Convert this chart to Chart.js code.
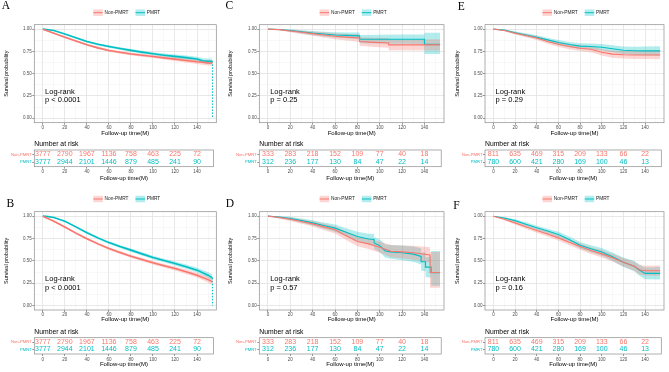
<!DOCTYPE html>
<html>
<head>
<meta charset="utf-8">
<script src="https://cdn.jsdelivr.net/npm/chart.js@4.4.0/dist/chart.umd.min.js"></script>
<style>
  html, body { margin: 0; padding: 0; background: #fff; }
  #fig { position: relative; width: 669px; height: 372px; overflow: hidden; }
  #fig canvas { position: absolute; }
  .tag { position: absolute; font-family: "Liberation Serif", "Times New Roman", serif; font-size: 11.5px; line-height: 1; color: #000; }
</style>
</head>
<body>
<div id="fig"></div>
<script>
// ---- groups and axes ----
const groups = ["Non-PMRT", "PMRT"];
const groupColors = ["#F8766D", "#00BFC4"];
const groupFills = ["rgba(248,118,109,0.3)", "rgba(0,191,196,0.3)"];

const survTicks = [0, 0.25, 0.5, 0.75, 1];
const survMinor = [0.125, 0.375, 0.625, 0.875];
const timeTicks = [0, 20, 40, 60, 80, 100, 120, 140];
const timeMinor = [10, 30, 50, 70, 90, 110, 130, 150];
const riskTimes = [0, 20, 40, 60, 80, 100, 120, 140];

// ---- A ----
const aTime = [0, 10, 20, 30, 40, 50, 60, 70, 80, 90, 100, 110, 120, 130, 140, 145, 150, 154];
const aNonEst = [1, 0.955, 0.91, 0.866, 0.825, 0.79, 0.761, 0.74, 0.722, 0.707, 0.693, 0.678, 0.664, 0.649, 0.634, 0.628, 0.622, 0.62];
const aNonLo = [1, 0.948, 0.901, 0.855, 0.813, 0.777, 0.747, 0.725, 0.706, 0.69, 0.675, 0.659, 0.643, 0.626, 0.609, 0.601, 0.593, 0.588];
const aNonHi = [1, 0.962, 0.919, 0.877, 0.837, 0.803, 0.775, 0.755, 0.738, 0.724, 0.711, 0.697, 0.685, 0.672, 0.659, 0.655, 0.651, 0.652];
const aPmrtEst = [1, 0.985, 0.945, 0.903, 0.862, 0.83, 0.806, 0.783, 0.762, 0.742, 0.724, 0.708, 0.694, 0.68, 0.666, 0.645, 0.64, 0.638];
const aPmrtLo = [1, 0.981, 0.938, 0.893, 0.85, 0.817, 0.792, 0.768, 0.746, 0.725, 0.706, 0.689, 0.673, 0.657, 0.641, 0.617, 0.61, 0.605];
const aPmrtHi = [1, 0.989, 0.952, 0.913, 0.874, 0.843, 0.82, 0.798, 0.778, 0.759, 0.742, 0.727, 0.715, 0.703, 0.691, 0.673, 0.67, 0.671];

// ---- B ----
const bTime = [0, 5, 10, 20, 30, 40, 50, 60, 70, 80, 90, 100, 110, 120, 130, 140, 150, 154];
const bNonEst = [1, 0.972, 0.944, 0.878, 0.81, 0.748, 0.69, 0.637, 0.593, 0.552, 0.514, 0.478, 0.446, 0.415, 0.378, 0.34, 0.29, 0.265];
const bNonLo = [1, 0.967, 0.937, 0.868, 0.798, 0.735, 0.676, 0.622, 0.577, 0.535, 0.496, 0.459, 0.426, 0.393, 0.354, 0.313, 0.258, 0.228];
const bNonHi = [1, 0.977, 0.951, 0.888, 0.822, 0.761, 0.704, 0.652, 0.609, 0.569, 0.532, 0.497, 0.466, 0.437, 0.402, 0.367, 0.322, 0.302];
const bPmrtEst = [1, 0.995, 0.985, 0.944, 0.88, 0.815, 0.757, 0.704, 0.66, 0.62, 0.578, 0.537, 0.503, 0.47, 0.435, 0.396, 0.34, 0.31];
const bPmrtLo = [1, 0.993, 0.981, 0.937, 0.869, 0.802, 0.743, 0.689, 0.644, 0.603, 0.56, 0.518, 0.483, 0.448, 0.411, 0.369, 0.308, 0.272];
const bPmrtHi = [1, 0.997, 0.989, 0.951, 0.891, 0.828, 0.771, 0.719, 0.676, 0.637, 0.596, 0.556, 0.523, 0.492, 0.459, 0.423, 0.372, 0.348];

// ---- C ----
const cNonTime = [0, 10, 20, 30, 40, 50, 60, 70, 82, 82, 95, 108, 108, 154];
const cNonEst = [1, 0.995, 0.98, 0.965, 0.95, 0.935, 0.92, 0.91, 0.9, 0.862, 0.852, 0.845, 0.823, 0.823];
const cNonLo = [1, 0.987, 0.966, 0.946, 0.926, 0.906, 0.887, 0.873, 0.858, 0.815, 0.8, 0.79, 0.763, 0.76];
const cNonHi = [1, 1, 0.994, 0.984, 0.974, 0.964, 0.953, 0.947, 0.942, 0.909, 0.904, 0.9, 0.883, 0.886];
const cPmrtTime = [0, 10, 20, 30, 40, 50, 60, 70, 82, 82, 100, 120, 140, 140, 154];
const cPmrtEst = [1, 0.996, 0.985, 0.97, 0.955, 0.945, 0.935, 0.93, 0.925, 0.887, 0.887, 0.887, 0.887, 0.83, 0.83];
const cPmrtLo = [1, 0.988, 0.971, 0.951, 0.931, 0.918, 0.905, 0.897, 0.888, 0.841, 0.838, 0.835, 0.833, 0.72, 0.72];
const cPmrtHi = [1, 1, 0.999, 0.989, 0.979, 0.972, 0.965, 0.963, 0.962, 0.933, 0.936, 0.939, 0.941, 0.96, 0.96];

// ---- D ----
const dNonTime = [0, 10, 20, 30, 40, 50, 60, 70, 80, 90, 100, 110, 120, 130, 145, 145, 154];
const dNonEst = [1, 0.985, 0.966, 0.94, 0.914, 0.88, 0.847, 0.78, 0.716, 0.69, 0.653, 0.608, 0.6, 0.59, 0.565, 0.37, 0.37];
const dNonLo = [1, 0.972, 0.946, 0.914, 0.883, 0.844, 0.806, 0.732, 0.662, 0.632, 0.59, 0.539, 0.527, 0.512, 0.478, 0.2, 0.2];
const dNonHi = [1, 0.998, 0.986, 0.966, 0.945, 0.916, 0.888, 0.828, 0.77, 0.748, 0.716, 0.677, 0.673, 0.668, 0.652, 0.6, 0.6];
const dPmrtTime = [0, 10, 20, 30, 40, 50, 60, 70, 80, 90, 95, 95, 100, 105, 110, 120, 130, 137, 137, 141, 141, 146, 146, 154];
const dPmrtEst = [1, 0.99, 0.974, 0.95, 0.925, 0.895, 0.866, 0.82, 0.772, 0.745, 0.74, 0.7, 0.67, 0.61, 0.6, 0.59, 0.575, 0.55, 0.49, 0.49, 0.43, 0.43, 0.366, 0.366];
const dPmrtLo = [1, 0.978, 0.955, 0.925, 0.895, 0.86, 0.826, 0.774, 0.718, 0.686, 0.678, 0.634, 0.6, 0.536, 0.523, 0.508, 0.49, 0.46, 0.39, 0.385, 0.32, 0.31, 0.22, 0.22];
const dPmrtHi = [1, 1, 0.993, 0.975, 0.955, 0.93, 0.906, 0.866, 0.826, 0.804, 0.802, 0.766, 0.74, 0.684, 0.677, 0.672, 0.66, 0.64, 0.59, 0.595, 0.54, 0.55, 0.61, 0.61];

// ---- E ----
const eTime = [0, 10, 20, 30, 40, 50, 60, 70, 80, 90, 100, 110, 120, 130, 140, 154];
const eNonEst = [1, 0.985, 0.955, 0.928, 0.9, 0.862, 0.83, 0.805, 0.786, 0.775, 0.74, 0.72, 0.712, 0.71, 0.71, 0.71];
const eNonLo = [1, 0.976, 0.94, 0.909, 0.878, 0.837, 0.802, 0.775, 0.754, 0.741, 0.703, 0.68, 0.67, 0.666, 0.664, 0.662];
const eNonHi = [1, 0.994, 0.97, 0.947, 0.922, 0.887, 0.858, 0.835, 0.818, 0.809, 0.777, 0.76, 0.754, 0.754, 0.756, 0.758];
const ePmrtEst = [1, 0.99, 0.96, 0.935, 0.91, 0.88, 0.85, 0.827, 0.81, 0.805, 0.797, 0.78, 0.763, 0.758, 0.756, 0.756];
const ePmrtLo = [1, 0.982, 0.946, 0.917, 0.889, 0.856, 0.823, 0.797, 0.778, 0.771, 0.761, 0.741, 0.72, 0.713, 0.708, 0.705];
const ePmrtHi = [1, 0.998, 0.974, 0.953, 0.931, 0.904, 0.877, 0.857, 0.842, 0.839, 0.833, 0.819, 0.806, 0.803, 0.804, 0.807];

// ---- F ----
const fTime = [0, 10, 20, 30, 40, 50, 60, 70, 80, 90, 100, 110, 120, 130, 135, 140, 154];
const fNonEst = [1, 0.965, 0.925, 0.882, 0.84, 0.8, 0.757, 0.707, 0.66, 0.615, 0.578, 0.535, 0.485, 0.44, 0.4, 0.39, 0.39];
const fNonLo = [1, 0.953, 0.907, 0.86, 0.815, 0.772, 0.727, 0.675, 0.625, 0.578, 0.538, 0.492, 0.438, 0.39, 0.347, 0.335, 0.332];
const fNonHi = [1, 0.977, 0.943, 0.904, 0.865, 0.828, 0.787, 0.739, 0.695, 0.652, 0.618, 0.578, 0.532, 0.49, 0.453, 0.445, 0.448];
const fPmrtEst = [1, 0.98, 0.95, 0.91, 0.87, 0.833, 0.795, 0.74, 0.675, 0.635, 0.6, 0.545, 0.485, 0.44, 0.395, 0.36, 0.36];
const fPmrtLo = [1, 0.97, 0.934, 0.889, 0.846, 0.806, 0.765, 0.707, 0.638, 0.595, 0.556, 0.497, 0.432, 0.383, 0.334, 0.295, 0.29];
const fPmrtHi = [1, 0.99, 0.966, 0.931, 0.894, 0.86, 0.825, 0.773, 0.712, 0.675, 0.644, 0.593, 0.538, 0.497, 0.456, 0.425, 0.43];

// ---- number at risk ----
const riskABNon = [3777, 2790, 1967, 1136, 758, 463, 225, 72];
const riskABPmrt = [3777, 2944, 2101, 1446, 879, 485, 241, 90];
const riskCDNon = [333, 283, 218, 152, 109, 77, 40, 18];
const riskCDPmrt = [312, 236, 177, 130, 84, 47, 22, 14];
const riskEFNon = [811, 635, 469, 315, 209, 133, 66, 22];
const riskEFPmrt = [780, 600, 421, 280, 169, 100, 46, 13];

const pA = "p < 0.0001", pB = "p < 0.0001", pC = "p = 0.25";
const pD = "p = 0.57", pE = "p = 0.29", pF = "p = 0.16";

// ---- layout ----
const FONT = "'Liberation Sans', Arial, sans-serif";
Chart.defaults.font.family = FONT;
Chart.defaults.color = "#4d4d4d";

const cols = [
  { colX: 0, colW: 223, plotL: 34.3, plotR: 216.3, yTitlePad: 2.7 },
  { colX: 223, colW: 223, plotL: 259.3, plotR: 444, yTitlePad: 4.2 },
  { colX: 446, colW: 223, plotL: 485, plotR: 664, yTitlePad: 8 },
];
const rows = [
  { kmTop: 0, kmH: 138, legendY: 12.7, plotT: 24.7, plotB: 122.7, xTitleY: 133.3,
    riskTop: 138, riskH: 46, numY: 144, boxT: 150, boxB: 166.7, rTitleY: 178.3 },
  { kmTop: 186, kmH: 140, legendY: 199, plotT: 211.7, plotB: 310, xTitleY: 319.3,
    riskTop: 326, riskH: 46, numY: 331.7, boxT: 337.7, boxB: 354, rTitleY: 364.3 },
];
const X_MIN = -7.75, X_MAX = 157.5, RISK_MAX = 155;

const panels = [
  { tag: "A", col: 0, row: 0, tagX: 1.7, tagY: 0, lw: 1.6, drop: true, pText: pA, risk: [riskABNon, riskABPmrt],
    series: [{ time: aTime, est: aNonEst, lo: aNonLo, hi: aNonHi }, { time: aTime, est: aPmrtEst, lo: aPmrtLo, hi: aPmrtHi }] },
  { tag: "B", col: 0, row: 1, tagX: 6.5, tagY: 198.4, lw: 1.6, drop: true, pText: pB, risk: [riskABNon, riskABPmrt],
    series: [{ time: bTime, est: bNonEst, lo: bNonLo, hi: bNonHi }, { time: bTime, est: bPmrtEst, lo: bPmrtLo, hi: bPmrtHi }] },
  { tag: "C", col: 1, row: 0, tagX: 225.5, tagY: 0, lw: 1.1, drop: false, pText: pC, risk: [riskCDNon, riskCDPmrt],
    series: [{ time: cNonTime, est: cNonEst, lo: cNonLo, hi: cNonHi }, { time: cPmrtTime, est: cPmrtEst, lo: cPmrtLo, hi: cPmrtHi }] },
  { tag: "D", col: 1, row: 1, tagX: 225.7, tagY: 198.4, lw: 1.1, drop: false, pText: pD, risk: [riskCDNon, riskCDPmrt],
    series: [{ time: dNonTime, est: dNonEst, lo: dNonLo, hi: dNonHi }, { time: dPmrtTime, est: dPmrtEst, lo: dPmrtLo, hi: dPmrtHi }] },
  { tag: "E", col: 2, row: 0, tagX: 457.7, tagY: 1, lw: 1.1, drop: false, pText: pE, risk: [riskEFNon, riskEFPmrt],
    series: [{ time: eTime, est: eNonEst, lo: eNonLo, hi: eNonHi }, { time: eTime, est: ePmrtEst, lo: ePmrtLo, hi: ePmrtHi }] },
  { tag: "F", col: 2, row: 1, tagX: 453.3, tagY: 199.7, lw: 1.1, drop: false, pText: pF, risk: [riskEFNon, riskEFPmrt],
    series: [{ time: fTime, est: fNonEst, lo: fNonLo, hi: fNonHi }, { time: fTime, est: fPmrtEst, lo: fPmrtLo, hi: fPmrtHi }] },
];

const fig = document.getElementById("fig");

function addCanvas(x, y, w, h) {
  const c = document.createElement("canvas");
  c.width = w; c.height = h;
  c.style.left = x + "px"; c.style.top = y + "px";
  c.style.width = w + "px"; c.style.height = h + "px";
  fig.appendChild(c);
  return c;
}

function setTicks(major, minor) {
  return (s) => {
    s.ticks = major.map((v) => ({ value: v }))
      .concat(minor.map((v) => ({ value: v, minor: true })))
      .sort((a, b) => a.value - b.value);
  };
}

const isMinor = (c) => c.tick && c.tick.minor;
const gridOpts = {
  color: (c) => (isMinor(c) ? "#f0f0f0" : "#e2e2e2"),
  lineWidth: (c) => (isMinor(c) ? 0.5 : 0.8),
  tickLength: 2,
  tickWidth: 0.6,
  tickColor: (c) => (isMinor(c) ? "rgba(0,0,0,0)" : "#4d4d4d"),
};

const framePlugin = {
  id: "frame",
  afterDraw(chart) {
    const a = chart.chartArea, ctx = chart.ctx;
    ctx.save();
    ctx.strokeStyle = "#8c8c8c";
    ctx.lineWidth = 0.7;
    ctx.strokeRect(a.left, a.top, a.right - a.left, a.bottom - a.top);
    ctx.restore();
  },
};

function kmChart(p) {
  const C = cols[p.col], R = rows[p.row];
  const cv = addCanvas(C.colX, R.kmTop, C.colW, R.kmH);
  const ds = [];
  p.series.forEach((s, k) => {
    ds.push({ data: s.time.map((t, i) => ({ x: t, y: s.hi[i] })), borderWidth: 0, pointRadius: 0, fill: false, order: 3 });
    ds.push({ data: s.time.map((t, i) => ({ x: t, y: s.lo[i] })), borderWidth: 0, pointRadius: 0, fill: "-1",
      backgroundColor: groupFills[k], order: 3 });
  });
  p.series.forEach((s, k) => {
    ds.push({ data: s.time.map((t, i) => ({ x: t, y: s.est[i] })), borderColor: groupColors[k],
      borderWidth: p.lw, pointRadius: 0, fill: false, order: 1 });
  });
  if (p.drop) {
    const s = p.series[1], n = s.time.length - 1;
    ds.push({ data: [{ x: s.time[n], y: s.est[n] }, { x: s.time[n], y: 0 }], borderColor: groupColors[1],
      borderWidth: 1, borderDash: [1.5, 1.5], pointRadius: 0, fill: false, order: 1 });
  }

  const legendPlugin = {
    id: "kmLegend",
    afterDraw(chart) {
      const ctx = chart.ctx, a = chart.chartArea;
      ctx.save();
      ctx.font = "4.8px " + FONT;
      ctx.textBaseline = "middle";
      const kw = 9.5, kh = 6.5, gap = 1.8, sep = 7;
      const widths = groups.map((g) => ctx.measureText(g).width);
      const total = widths.reduce((acc, w) => acc + kw + gap + w, 0) + sep;
      let x = (a.left + a.right) / 2 + 1.5 - total / 2;
      const y = R.legendY - R.kmTop;
      groups.forEach((g, k) => {
        ctx.fillStyle = groupFills[k];
        ctx.fillRect(x, y - kh / 2, kw, kh);
        ctx.strokeStyle = groupColors[k];
        ctx.lineWidth = 1;
        ctx.beginPath(); ctx.moveTo(x, y); ctx.lineTo(x + kw, y); ctx.stroke();
        ctx.fillStyle = "#1a1a1a";
        ctx.fillText(g, x + kw + gap, y);
        x += kw + gap + widths[k] + sep;
      });
      ctx.restore();
    },
  };

  const pvalPlugin = {
    id: "pval",
    afterDraw(chart) {
      const ctx = chart.ctx, sx = chart.scales.x, sy = chart.scales.y;
      ctx.save();
      ctx.font = "7.5px " + FONT;
      ctx.fillStyle = "#000";
      ctx.textBaseline = "middle";
      ctx.fillText("Log-rank", sx.getPixelForValue(2), sy.getPixelForValue(0.3));
      ctx.fillText(p.pText, sx.getPixelForValue(2), sy.getPixelForValue(0.2));
      ctx.restore();
    },
  };

  new Chart(cv, {
    type: "line",
    data: { datasets: ds },
    options: {
      responsive: false, animation: false, devicePixelRatio: 1, events: [],
      layout: { padding: { left: 0, right: C.colX + C.colW - C.plotR, top: R.plotT - R.kmTop, bottom: 0 } },
      plugins: { legend: { display: false }, tooltip: { enabled: false } },
      scales: {
        x: {
          type: "linear", min: X_MIN, max: X_MAX,
          afterBuildTicks: setTicks(timeTicks, timeMinor),
          afterFit: (s) => { s.height = R.kmTop + R.kmH - R.plotB; },
          grid: gridOpts, border: { display: false },
          ticks: { autoSkip: false, maxRotation: 0, minRotation: 0, padding: 0, font: { size: 4.5 }, color: "#4d4d4d",
            callback: (v, i, t) => (t[i].minor ? "" : String(v)) },
          title: { display: true, text: "Follow-up time(M)", color: "#000", font: { size: 6 },
            padding: { top: 0, bottom: R.kmTop + R.kmH - R.xTitleY - 3.6 } },
        },
        y: {
          type: "linear", min: -0.05, max: 1.05,
          afterBuildTicks: setTicks(survTicks, survMinor),
          afterFit: (s) => { s.width = C.plotL - C.colX; },
          grid: gridOpts, border: { display: false },
          ticks: { autoSkip: false, padding: 0.5, font: { size: 4.5 }, color: "#4d4d4d",
            callback: (v, i, t) => (t[i].minor ? "" : v.toFixed(2)) },
          title: { display: true, text: "Survival probability", color: "#000", font: { size: 5.5 },
            padding: { top: C.yTitlePad, bottom: 0 } },
        },
      },
    },
    plugins: [framePlugin, legendPlugin, pvalPlugin],
  });
}

function riskChart(p) {
  const C = cols[p.col], R = rows[p.row];
  const cv = addCanvas(C.colX, R.riskTop, C.colW, R.riskH);
  const riskR = C.plotL + (RISK_MAX - X_MIN) * (C.plotR - C.plotL) / (X_MAX - X_MIN);
  const rowPos = [2, 1];
  const ds = p.risk.map((vals, k) => ({
    data: riskTimes.map((t, i) => ({ x: t, y: rowPos[k], n: vals[i] })),
    pointRadius: 0, textColor: groupColors[k],
  }));

  const textPlugin = {
    id: "riskText",
    afterDatasetsDraw(chart) {
      const ctx = chart.ctx, a = chart.chartArea;
      ctx.save();
      ctx.textBaseline = "middle";
      ctx.font = "6.8px " + FONT;
      ctx.fillStyle = "#000";
      ctx.fillText("Number at risk", a.left, R.numY - R.riskTop);
      ctx.font = "7px " + FONT;
      ctx.textAlign = "center";
      chart.data.datasets.forEach((d, k) => {
        ctx.fillStyle = d.textColor;
        chart.getDatasetMeta(k).data.forEach((el, i) => ctx.fillText(String(d.data[i].n), el.x, el.y));
      });
      ctx.restore();
    },
  };

  new Chart(cv, {
    type: "scatter",
    data: { datasets: ds },
    options: {
      responsive: false, animation: false, devicePixelRatio: 1, events: [],
      layout: { padding: { left: 0, right: C.colX + C.colW - riskR, top: R.boxT - R.riskTop, bottom: 0 } },
      plugins: { legend: { display: false }, tooltip: { enabled: false } },
      scales: {
        x: {
          type: "linear", min: X_MIN, max: RISK_MAX,
          afterBuildTicks: setTicks(timeTicks, []),
          afterFit: (s) => { s.height = R.riskTop + R.riskH - R.boxB; },
          grid: { drawOnChartArea: false, tickLength: 2, tickWidth: 0.6, tickColor: "#4d4d4d" },
          border: { display: false },
          ticks: { autoSkip: false, maxRotation: 0, minRotation: 0, padding: 0.8, font: { size: 4.5 }, color: "#4d4d4d" },
          title: { display: true, text: "Follow-up time(M)", color: "#000", font: { size: 6 },
            padding: { top: 0, bottom: R.riskTop + R.riskH - R.rTitleY - 3.6 } },
        },
        y: {
          type: "linear", min: 0.4, max: 2.6,
          afterBuildTicks: (s) => { s.ticks = rowPos.slice().reverse().map((v) => ({ value: v })); },
          afterFit: (s) => { s.width = C.plotL - C.colX; },
          grid: { drawOnChartArea: false, tickLength: 2, tickWidth: 0.6, tickColor: "#4d4d4d" },
          border: { display: false },
          ticks: { autoSkip: false, padding: 0.5, font: { size: 4.2 },
            color: (c) => groupColors[rowPos.indexOf(c.tick.value)],
            callback: (v) => groups[rowPos.indexOf(v)] },
        },
      },
    },
    plugins: [framePlugin, textPlugin],
  });
}

panels.forEach((p) => {
  kmChart(p);
  riskChart(p);
  const t = document.createElement("div");
  t.className = "tag";
  t.textContent = p.tag;
  t.style.left = p.tagX + "px";
  t.style.top = p.tagY + "px";
  fig.appendChild(t);
});
</script>
</body>
</html>
